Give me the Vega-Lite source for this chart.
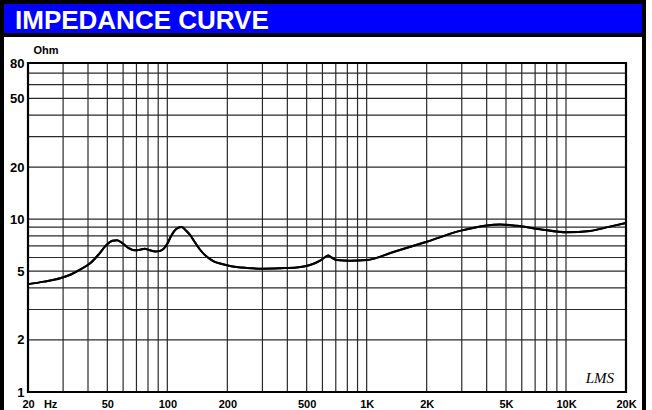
{
  "$schema": "https://vega.github.io/schema/vega-lite/v6.json",
  "background": "white",
  "padding": 0,
  "autosize": {"type": "pad"},
  "bounds": "flush",
  "spacing": 0,
  "config": {"font": "Liberation Sans"},
  "datasets": {
    "curve": [
      {"f": 20, "ohm": 4.2}, {"f": 24, "ohm": 4.35}, {"f": 29, "ohm": 4.55}, {"f": 33, "ohm": 4.8},
      {"f": 36.5, "ohm": 5.1}, {"f": 41, "ohm": 5.55}, {"f": 45, "ohm": 6.2}, {"f": 49, "ohm": 7.0},
      {"f": 53, "ohm": 7.5}, {"f": 56, "ohm": 7.55}, {"f": 60, "ohm": 7.2}, {"f": 64, "ohm": 6.8},
      {"f": 68, "ohm": 6.6}, {"f": 73, "ohm": 6.65}, {"f": 77, "ohm": 6.75}, {"f": 82, "ohm": 6.6},
      {"f": 87, "ohm": 6.5}, {"f": 92, "ohm": 6.55}, {"f": 96, "ohm": 6.75}, {"f": 100, "ohm": 7.2},
      {"f": 104, "ohm": 7.9}, {"f": 108, "ohm": 8.5}, {"f": 113, "ohm": 8.9}, {"f": 118, "ohm": 9.0},
      {"f": 124, "ohm": 8.6}, {"f": 130, "ohm": 8.1}, {"f": 138, "ohm": 7.3}, {"f": 146, "ohm": 6.65},
      {"f": 158, "ohm": 6.05}, {"f": 170, "ohm": 5.72}, {"f": 188, "ohm": 5.5}, {"f": 206, "ohm": 5.36},
      {"f": 250, "ohm": 5.22}, {"f": 300, "ohm": 5.17}, {"f": 370, "ohm": 5.2}, {"f": 446, "ohm": 5.25},
      {"f": 520, "ohm": 5.43}, {"f": 584, "ohm": 5.75}, {"f": 615, "ohm": 6.0}, {"f": 640, "ohm": 6.17},
      {"f": 665, "ohm": 6.0}, {"f": 708, "ohm": 5.8}, {"f": 825, "ohm": 5.75}, {"f": 1000, "ohm": 5.8},
      {"f": 1361, "ohm": 6.45}, {"f": 2000, "ohm": 7.4}, {"f": 2940, "ohm": 8.55}, {"f": 4000, "ohm": 9.2},
      {"f": 4670, "ohm": 9.3}, {"f": 5670, "ohm": 9.15}, {"f": 7400, "ohm": 8.75}, {"f": 10100, "ohm": 8.4},
      {"f": 13200, "ohm": 8.55}, {"f": 16600, "ohm": 9.05}, {"f": 20000, "ohm": 9.5}
    ],
    "gridx": [
      {"f": 30}, {"f": 40}, {"f": 50}, {"f": 60}, {"f": 70}, {"f": 80}, {"f": 90}, {"f": 100},
      {"f": 200}, {"f": 300}, {"f": 400}, {"f": 500}, {"f": 600}, {"f": 700}, {"f": 800}, {"f": 900}, {"f": 1000},
      {"f": 2000}, {"f": 3000}, {"f": 4000}, {"f": 5000}, {"f": 6000}, {"f": 7000}, {"f": 8000}, {"f": 9000}, {"f": 10000}
    ],
    "gridy": [
      {"v": 2}, {"v": 3}, {"v": 4}, {"v": 5}, {"v": 6}, {"v": 7}, {"v": 8}, {"v": 9}, {"v": 10},
      {"v": 20}, {"v": 30}, {"v": 40}, {"v": 50}, {"v": 60}, {"v": 70}
    ]
  },
  "vconcat": [
    {
      "width": 642,
      "height": 33,
      "view": {"fill": "#0000FF", "stroke": "black", "strokeWidth": 4},
      "data": {"values": [{"label": "IMPEDANCE CURVE"}]},
      "mark": {"type": "text", "align": "left", "baseline": "middle", "dx": 13, "dy": 2, "color": "white", "font": "Liberation Sans", "fontSize": 26, "fontWeight": "bold"},
      "encoding": {
        "x": {"datum": 0, "type": "quantitative", "scale": {"domain": [0, 1]}, "axis": null},
        "text": {"field": "label", "type": "nominal"}
      }
    },
    {
      "width": 642,
      "height": 380,
      "view": {"fill": "white", "stroke": "black", "strokeWidth": 4},
      "layer": [
        {
          "data": {"name": "curve"},
          "mark": {"type": "line", "color": "black", "strokeWidth": 2, "interpolate": "monotone"},
          "encoding": {
            "x": {
              "field": "f", "type": "quantitative",
              "scale": {"type": "log", "domain": [20, 20000], "range": [26, 624]},
              "axis": {
                "orient": "bottom", "offset": -23, "title": null,
                "values": [20, 50, 100, 200, 500, 1000, 2000, 5000, 10000, 20000],
                "labelExpr": "datum.value == 20 ? '20\u00a0\u00a0\u00a0Hz' : (datum.value >= 1000 ? format(datum.value / 1000, 'd') + 'K' : format(datum.value, 'd'))",
                "domain": false, "ticks": false, "grid": false,
                "labelPadding": 6, "labelFont": "Liberation Sans", "labelFontWeight": "bold", "labelFontSize": 11, "labelColor": "black",
                "labelOverlap": false, "labelBound": false, "labelFlush": false,
                "labelAlign": {"condition": {"test": "datum.value == 20", "value": "left"}, "value": "center"},
                "labelOffset": {"condition": {"test": "datum.value == 20", "value": -6}, "value": 0}
              }
            },
            "y": {
              "field": "ohm", "type": "quantitative",
              "scale": {"type": "log", "domain": [1, 80], "range": [357, 28]},
              "axis": {
                "orient": "left", "offset": -26,
                "values": [1, 2, 5, 10, 20, 50, 80],
                "labelExpr": "format(datum.value, 'd')",
                "domain": false, "ticks": false, "grid": false,
                "labelPadding": 4, "labelFont": "Liberation Sans", "labelFontWeight": "bold", "labelFontSize": 13, "labelColor": "black",
                "labelOverlap": false, "labelBound": false, "labelFlush": false, "labelBaseline": "middle",
                "title": "Ohm", "titleAngle": 0, "titleAlign": "left", "titleBaseline": "middle",
                "titleX": 5, "titleY": 15, "titleFont": "Liberation Sans", "titleFontSize": 11, "titleFontWeight": "bold", "titleColor": "black"
              }
            }
          }
        },
        {
          "data": {"name": "gridx"},
          "mark": {"type": "rule", "color": "#2a2a2a", "strokeWidth": 1.2},
          "encoding": {
            "x": {"field": "f", "type": "quantitative", "scale": {"type": "log", "domain": [20, 20000], "range": [26, 624]}},
            "y": {"datum": 1, "type": "quantitative", "scale": {"type": "log", "domain": [1, 80], "range": [357, 28]}},
            "y2": {"datum": 80}
          }
        },
        {
          "data": {"name": "gridy"},
          "mark": {"type": "rule", "color": "#2a2a2a", "strokeWidth": 1.2},
          "encoding": {
            "y": {"field": "v", "type": "quantitative", "scale": {"type": "log", "domain": [1, 80], "range": [357, 28]}},
            "x": {"datum": 20, "type": "quantitative", "scale": {"type": "log", "domain": [20, 20000], "range": [26, 624]}},
            "x2": {"datum": 20000}
          }
        },
        {
          "data": {"values": [{"frame": "plot"}]},
          "mark": {"type": "rect", "fillOpacity": 0, "stroke": "black", "strokeWidth": 2.2},
          "encoding": {
            "x": {"datum": 20, "type": "quantitative", "scale": {"type": "log", "domain": [20, 20000], "range": [26, 624]}},
            "x2": {"datum": 20000},
            "y": {"datum": 1, "type": "quantitative", "scale": {"type": "log", "domain": [1, 80], "range": [357, 28]}},
            "y2": {"datum": 80}
          }
        },
        {
          "data": {"name": "curve"},
          "mark": {"type": "line", "color": "black", "strokeWidth": 2, "interpolate": "monotone"},
          "encoding": {
            "x": {"field": "f", "type": "quantitative", "scale": {"type": "log", "domain": [20, 20000], "range": [26, 624]}},
            "y": {"field": "ohm", "type": "quantitative", "scale": {"type": "log", "domain": [1, 80], "range": [357, 28]}}
          }
        },
        {
          "data": {"values": [{"f": 14800, "ohm": 1.21, "label": "LMS"}]},
          "mark": {"type": "text", "font": "Liberation Serif", "fontStyle": "italic", "fontSize": 15, "color": "black", "baseline": "middle", "align": "center"},
          "encoding": {
            "x": {"field": "f", "type": "quantitative", "scale": {"type": "log", "domain": [20, 20000], "range": [26, 624]}},
            "y": {"field": "ohm", "type": "quantitative", "scale": {"type": "log", "domain": [1, 80], "range": [357, 28]}},
            "text": {"field": "label", "type": "nominal"}
          }
        }
      ]
    }
  ]
}
